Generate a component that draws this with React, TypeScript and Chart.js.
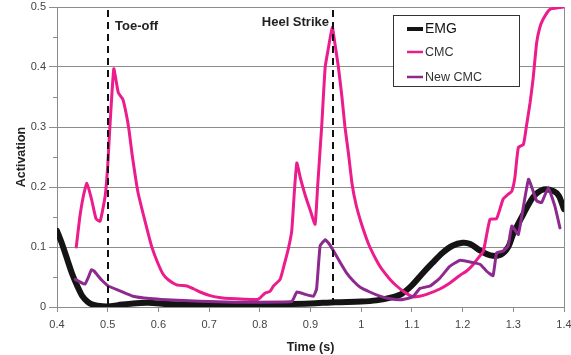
import React, { useEffect, useRef } from "react";
import { Chart, registerables } from "chart.js";

Chart.register(...registerables);

// ---- data ----
const xTicks = [0.4, 0.5, 0.6, 0.7, 0.8, 0.9, 1.0, 1.1, 1.2, 1.3, 1.4];
const yTicks = [0, 0.1, 0.2, 0.3, 0.4, 0.5];

const seriesLabels = ["EMG", "CMC", "New CMC"];

const emgTime = [0.4, 0.41, 0.42, 0.43, 0.44, 0.45, 0.46, 0.47, 0.48, 0.5, 0.52, 0.55, 0.58, 0.62, 0.68, 0.75, 0.85, 0.9, 0.95, 1.0, 1.03, 1.06, 1.08, 1.1, 1.12, 1.14, 1.16, 1.18, 1.2, 1.215, 1.235, 1.255, 1.275, 1.29, 1.3, 1.32, 1.34, 1.36, 1.38, 1.39, 1.4];
const emgValues = [0.127, 0.105, 0.08, 0.055, 0.035, 0.018, 0.009, 0.004, 0.002, 0.001, 0.003, 0.006, 0.007, 0.005, 0.004, 0.004, 0.005, 0.006, 0.008, 0.009, 0.011, 0.016, 0.022, 0.036, 0.055, 0.073, 0.09, 0.102, 0.107, 0.105, 0.094, 0.086, 0.087, 0.1, 0.122, 0.155, 0.184, 0.196, 0.193, 0.185, 0.163];

const cmcTime = [0.438, 0.445, 0.452, 0.459, 0.468, 0.477, 0.485, 0.495, 0.5, 0.505, 0.512, 0.517, 0.521, 0.53, 0.537, 0.542, 0.548, 0.555, 0.56, 0.57, 0.58, 0.587, 0.598, 0.609, 0.62, 0.636, 0.656, 0.67, 0.682, 0.702, 0.72, 0.741, 0.77, 0.797, 0.81, 0.82, 0.827, 0.84, 0.848, 0.856, 0.863, 0.868, 0.873, 0.88, 0.89, 0.9, 0.909, 0.914, 0.919, 0.922, 0.929, 0.935, 0.943, 0.948, 0.955, 0.962, 0.968, 0.975, 0.982, 0.99, 1.0, 1.01, 1.017, 1.03, 1.04, 1.057, 1.07, 1.085, 1.102, 1.115, 1.129, 1.155, 1.175, 1.195, 1.208, 1.221, 1.231, 1.241, 1.254, 1.267, 1.28, 1.29, 1.297, 1.303, 1.31, 1.32, 1.326, 1.333, 1.339, 1.346, 1.352, 1.359, 1.372, 1.392, 1.4];
const cmcValues = [0.1, 0.15, 0.185, 0.206, 0.18, 0.147, 0.143, 0.185, 0.235, 0.31, 0.397, 0.375, 0.357, 0.346, 0.32, 0.295, 0.255, 0.215, 0.19, 0.155, 0.122, 0.1, 0.075, 0.055, 0.045, 0.037, 0.035, 0.03, 0.025, 0.019, 0.016, 0.014, 0.013, 0.013, 0.023, 0.026, 0.035, 0.046, 0.07, 0.096, 0.127, 0.19, 0.24, 0.215, 0.185, 0.16, 0.138, 0.2, 0.263, 0.3, 0.4, 0.43, 0.466, 0.44, 0.4, 0.35, 0.3, 0.255, 0.205, 0.17, 0.14, 0.115, 0.1, 0.078, 0.064, 0.046, 0.035, 0.025, 0.017, 0.018, 0.021, 0.03, 0.04, 0.053, 0.06, 0.071, 0.082, 0.093, 0.146, 0.147, 0.18, 0.188, 0.193, 0.215, 0.266, 0.271, 0.302, 0.34, 0.38, 0.44, 0.465, 0.48, 0.496, 0.499, 0.5];

const newCmcTime = [0.436, 0.445, 0.455, 0.462, 0.468, 0.473, 0.478, 0.488, 0.501, 0.524, 0.55, 0.583, 0.616, 0.682, 0.75, 0.863, 0.873, 0.89, 0.906, 0.912, 0.919, 0.929, 0.937, 0.945, 0.958, 0.971, 0.985, 0.998, 1.017, 1.037, 1.055, 1.077, 1.095, 1.103, 1.116, 1.136, 1.155, 1.175, 1.195, 1.221, 1.235, 1.247, 1.26, 1.267, 1.28, 1.29, 1.297, 1.31, 1.33, 1.346, 1.356, 1.369, 1.382, 1.392];
const newCmcValues = [0.046, 0.042, 0.038, 0.05, 0.062, 0.06, 0.055, 0.045, 0.035, 0.027, 0.018, 0.014, 0.012, 0.0095, 0.008, 0.009, 0.025, 0.021, 0.018, 0.03, 0.102, 0.112, 0.105, 0.094, 0.075, 0.057, 0.043, 0.033, 0.025, 0.018, 0.014, 0.012, 0.015, 0.018, 0.031, 0.035, 0.048, 0.068, 0.078, 0.074, 0.071, 0.06, 0.052, 0.09, 0.093, 0.102, 0.135, 0.121, 0.213, 0.177, 0.174, 0.199, 0.168, 0.132];

const eventTimes = [0.5, 0.944];
const eventLabels = ["Toe-off", "Heel Strike"];

// ---- styles ----
const FONT = "'Liberation Sans', Arial, sans-serif";
const GRID = "#8c8c8c";
const colors = ["#141414", "#ec1c8c", "#8c2a8e"];
const widths = [6, 3, 3];

const toPoints = (xs: number[], ys: number[]) => xs.map((x, i) => ({ x, y: ys[i] }));

const decorPlugin = {
  id: "decor",
  beforeDatasetsDraw(chart: any) {
    const { ctx, chartArea, scales } = chart;
    const y = scales.y;
    ctx.save();
    ctx.strokeStyle = GRID;
    ctx.lineWidth = 1;
    for (let v = 0.05; v < 0.5; v += 0.1) {
      const py = Math.round(y.getPixelForValue(v)) + 0.5;
      ctx.beginPath();
      ctx.moveTo(chartArea.left - 4, py);
      ctx.lineTo(chartArea.left, py);
      ctx.stroke();
    }
    const rx = Math.round(chartArea.right) + 0.5;
    ctx.beginPath();
    ctx.moveTo(rx, chartArea.top);
    ctx.lineTo(rx, chartArea.bottom);
    ctx.stroke();
    ctx.restore();
  },
  afterDatasetsDraw(chart: any) {
    const { ctx, chartArea, scales } = chart;
    const x = scales.x;
    ctx.save();
    eventTimes.forEach((t, i) => {
      const px = Math.round(x.getPixelForValue(t));
      ctx.strokeStyle = "#111";
      ctx.lineWidth = 2;
      ctx.setLineDash([7, 5]);
      ctx.beginPath();
      ctx.moveTo(px, chartArea.top + 3);
      ctx.lineTo(px, chartArea.bottom);
      ctx.stroke();
      ctx.setLineDash([]);
      ctx.fillStyle = "#222";
      ctx.font = `bold 13px ${FONT}`;
      ctx.textBaseline = "middle";
      if (i === 0) {
        ctx.textAlign = "left";
        ctx.fillText(eventLabels[i], px + 7, 26);
      } else {
        ctx.textAlign = "right";
        ctx.fillText(eventLabels[i], px - 4, 22);
      }
    });
    const bx = 393.5, by = 15.5, bw = 126, bh = 71;
    ctx.fillStyle = "#fff";
    ctx.fillRect(bx, by, bw, bh);
    ctx.strokeStyle = "#333";
    ctx.lineWidth = 1;
    ctx.strokeRect(bx, by, bw, bh);
    const rowsY = [29, 52, 77];
    const fonts = [`14px ${FONT}`, `12.5px ${FONT}`, `12.5px ${FONT}`];
    const textCols = ["#111", "#333", "#333"];
    const sw = [4, 2.5, 2.5];
    seriesLabels.forEach((lab, i) => {
      ctx.strokeStyle = colors[i];
      ctx.lineWidth = sw[i];
      ctx.beginPath();
      ctx.moveTo(407, rowsY[i]);
      ctx.lineTo(423, rowsY[i]);
      ctx.stroke();
      ctx.fillStyle = textCols[i];
      ctx.font = fonts[i];
      ctx.textAlign = "left";
      ctx.textBaseline = "middle";
      ctx.fillText(lab, 425, rowsY[i] + 0.5);
    });
    ctx.restore();
  },
};

export default function App() {
  const ref = useRef<HTMLCanvasElement | null>(null);
  useEffect(() => {
    if (!ref.current) return;
    const chart = new Chart(ref.current, {
      type: "line",
      data: {
        datasets: [
          { label: seriesLabels[0], data: toPoints(emgTime, emgValues), borderColor: colors[0], borderWidth: widths[0], pointRadius: 0, tension: 0.3, order: 3 },
          { label: seriesLabels[1], data: toPoints(cmcTime, cmcValues), borderColor: colors[1], borderWidth: widths[1], pointRadius: 0, tension: 0.15, order: 2 },
          { label: seriesLabels[2], data: toPoints(newCmcTime, newCmcValues), borderColor: colors[2], borderWidth: widths[2], pointRadius: 0, tension: 0.1, order: 1 },
        ],
      },
      options: {
        responsive: false,
        animation: false,
        layout: { padding: { top: 7, right: 7, left: 0, bottom: 0 } },
        plugins: { legend: { display: false }, tooltip: { enabled: false } },
        elements: { line: { borderJoinStyle: "round", borderCapStyle: "round" } },
        scales: {
          x: {
            type: "linear",
            min: xTicks[0],
            max: xTicks[xTicks.length - 1],
            afterBuildTicks: (s: any) => { s.ticks = xTicks.map((v) => ({ value: v })); },
            ticks: {
              callback: (v: any) => String(Math.round(Number(v) * 10) / 10),
              color: "#444",
              font: { family: FONT, size: 11 },
              padding: 6,
              maxRotation: 0,
              autoSkip: false,
            },
            grid: { drawOnChartArea: false, drawTicks: true, tickLength: 5, color: GRID },
            border: { color: GRID },
            title: { display: true, text: "Time (s)", color: "#222", font: { family: FONT, size: 12.5, weight: "bold" }, padding: { top: 0, bottom: 0 } },
            afterFit: (s: any) => { s.height = 48; s.paddingLeft = 0; s.paddingRight = 0; },
          },
          y: {
            type: "linear",
            min: yTicks[0],
            max: yTicks[yTicks.length - 1],
            afterBuildTicks: (s: any) => { s.ticks = yTicks.map((v) => ({ value: v })); },
            ticks: {
              callback: (v: any) => String(Math.round(Number(v) * 10) / 10),
              color: "#444",
              font: { family: FONT, size: 11 },
              padding: 3,
              autoSkip: false,
            },
            grid: { color: GRID, tickLength: 8, lineWidth: 1 },
            border: { color: GRID },
            title: { display: true, text: "Activation", color: "#222", font: { family: FONT, size: 12.5, weight: "bold" }, padding: { top: 14, bottom: 0 } },
            afterFit: (s: any) => { s.width = 57; s.paddingTop = 0; s.paddingBottom = 0; },
          },
        },
      },
      plugins: [decorPlugin],
    } as any);
    return () => chart.destroy();
  }, []);
  return (
    <div style={{ position: "fixed", left: 0, top: 0, width: 571, height: 355, background: "#fff" }}>
      <canvas ref={ref} width={571} height={355} style={{ display: "block" }} />
    </div>
  );
}
